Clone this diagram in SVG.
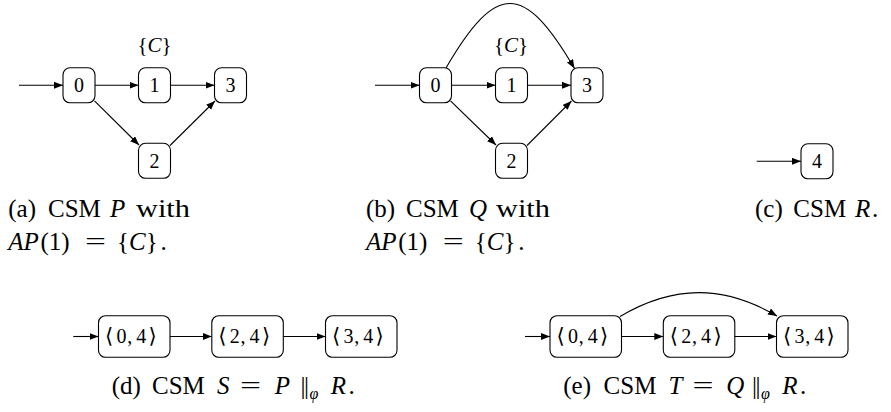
<svg xmlns="http://www.w3.org/2000/svg" width="891" height="412" viewBox="0 0 891 412">
  <style>
    text { font-family: "Liberation Serif", "Times New Roman", Tinos, "DejaVu Serif", serif; fill: #000; }
    .lbl { font-size: 20px; }
    .cap { font-size: 25px; }
    .ap { font-size: 21px; }
    .it { font-style: italic; }
    .br { font-family: "DejaVu Serif", "DejaVu Sans", serif; font-size: 21px; }
    .par { letter-spacing: -1.5px; }
    .sub { font-size: 16px; }
    .node rect { fill: #fff; stroke: #000; stroke-width: 1.1; }
    .edge { fill: none; stroke: #000; stroke-width: 1.1; marker-end: url(#tip); }
  </style>
  <defs>
    <marker id="tip" markerUnits="userSpaceOnUse" markerWidth="10" markerHeight="8" refX="9" refY="3.5" orient="auto">
      <path d="M0,0 L9,3.5 L0,7 Z" fill="#000"/>
    </marker>
  </defs>

  <!-- connectors -->
  <g id="connectors">
    <!-- (a) P -->
    <path class="edge" d="M19,85.3 H63"/>
    <path class="edge" d="M95,85.3 H138.5"/>
    <path class="edge" d="M170.5,85.3 H214.5"/>
    <path class="edge" d="M94.5,100.8 L139,145"/>
    <path class="edge" d="M170,145.5 L215,101"/>
    <!-- (b) Q -->
    <path class="edge" d="M375,85.3 H419.5"/>
    <path class="edge" d="M451.5,85.3 H495.5"/>
    <path class="edge" d="M527.5,85.3 H571"/>
    <path class="edge" d="M450.5,100.8 L496,145"/>
    <path class="edge" d="M527,145.5 L571.5,101"/>
    <path class="edge" d="M446,68 C496,-18 524,-18 574.5,68.5"/>
    <!-- (c) R -->
    <path class="edge" d="M756.7,161.3 H801"/>
    <!-- (d) S -->
    <path class="edge" d="M73.3,336.5 H98.5"/>
    <path class="edge" d="M170,336.5 H211.8"/>
    <path class="edge" d="M283.3,336.5 H325.5"/>
    <!-- (e) T -->
    <path class="edge" d="M525,336.5 H550"/>
    <path class="edge" d="M621.5,336.5 H663.3"/>
    <path class="edge" d="M734,336.5 H776.5"/>
    <path class="edge" d="M620,316.5 C673.5,284.7 723.5,284.7 777,316"/>
  </g>

  <!-- (a) CSM P -->
  <g id="P0" class="node"><rect x="63" y="67.8" width="32" height="35" rx="7"/><text class="lbl" x="79" y="92.3" text-anchor="middle">0</text></g>
  <g id="P1" class="node"><rect x="138.5" y="67.8" width="32" height="35" rx="7"/><text class="lbl" x="154.5" y="92.3" text-anchor="middle">1</text></g>
  <g id="P3" class="node"><rect x="214.5" y="67.8" width="32" height="35" rx="7"/><text class="lbl" x="230.5" y="92.3" text-anchor="middle">3</text></g>
  <g id="P2" class="node"><rect x="138.5" y="143.3" width="32" height="35" rx="7"/><text class="lbl" x="154.5" y="167.8" text-anchor="middle">2</text></g>
  <text class="ap" x="154.5" y="52" text-anchor="middle">{<tspan class="it">C</tspan>}</text>

  <!-- (b) CSM Q -->
  <g id="Q0" class="node"><rect x="419.5" y="67.8" width="32" height="35" rx="7"/><text class="lbl" x="435.5" y="92.3" text-anchor="middle">0</text></g>
  <g id="Q1" class="node"><rect x="495.5" y="67.8" width="32" height="35" rx="7"/><text class="lbl" x="511.5" y="92.3" text-anchor="middle">1</text></g>
  <g id="Q3" class="node"><rect x="571" y="67.8" width="32" height="35" rx="7"/><text class="lbl" x="587" y="92.3" text-anchor="middle">3</text></g>
  <g id="Q2" class="node"><rect x="495.5" y="143.3" width="32" height="35" rx="7"/><text class="lbl" x="511.5" y="167.8" text-anchor="middle">2</text></g>
  <text class="ap" x="511" y="52" text-anchor="middle">{<tspan class="it">C</tspan>}</text>

  <!-- (c) CSM R -->
  <g id="R4" class="node"><rect x="801" y="143.8" width="32" height="35" rx="7"/><text class="lbl" x="817" y="168.3" text-anchor="middle">4</text></g>

  <!-- (d) CSM S -->
  <g id="S04" class="node"><rect x="98.5" y="315.7" width="71.5" height="41.6" rx="7"/>
    <text class="lbl" y="343"><tspan class="br" x="105">⟨</tspan><tspan x="116.5">0</tspan><tspan x="127.3">,</tspan><tspan x="136.2">4</tspan><tspan class="br" x="148.6">⟩</tspan></text></g>
  <g id="S24" class="node"><rect x="211.8" y="315.7" width="71.5" height="41.6" rx="7"/>
    <text class="lbl" y="343"><tspan class="br" x="218.3">⟨</tspan><tspan x="229.8">2</tspan><tspan x="240.6">,</tspan><tspan x="249.5">4</tspan><tspan class="br" x="261.9">⟩</tspan></text></g>
  <g id="S34" class="node"><rect x="325.5" y="315.7" width="71.5" height="41.6" rx="7"/>
    <text class="lbl" y="343"><tspan class="br" x="332">⟨</tspan><tspan x="343.5">3</tspan><tspan x="354.3">,</tspan><tspan x="363.2">4</tspan><tspan class="br" x="375.6">⟩</tspan></text></g>

  <!-- (e) CSM T -->
  <g id="T04" class="node"><rect x="550" y="315.7" width="71.5" height="41.6" rx="7"/>
    <text class="lbl" y="343"><tspan class="br" x="556.5">⟨</tspan><tspan x="568">0</tspan><tspan x="578.8">,</tspan><tspan x="587.7">4</tspan><tspan class="br" x="600.1">⟩</tspan></text></g>
  <g id="T24" class="node"><rect x="663.3" y="315.7" width="71.5" height="41.6" rx="7"/>
    <text class="lbl" y="343"><tspan class="br" x="669.8">⟨</tspan><tspan x="681.3">2</tspan><tspan x="692.1">,</tspan><tspan x="701">4</tspan><tspan class="br" x="713.4">⟩</tspan></text></g>
  <g id="T34" class="node"><rect x="776.5" y="315.7" width="71.5" height="41.6" rx="7"/>
    <text class="lbl" y="343"><tspan class="br" x="783">⟨</tspan><tspan x="794.5">3</tspan><tspan x="805.3">,</tspan><tspan x="814.2">4</tspan><tspan class="br" x="826.6">⟩</tspan></text></g>

  <!-- captions -->
  <g id="captions" class="cap">
    <text y="216.7"><tspan x="8.3">(a)</tspan><tspan x="48">CSM</tspan><tspan class="it" x="110">P</tspan></text>
    <text y="216.7" x="136" textLength="54" lengthAdjust="spacingAndGlyphs">with</text>
    <text y="250"><tspan class="it" x="8.3">AP</tspan><tspan x="40.5">(1)</tspan></text>
    <text y="250" x="85" textLength="21" lengthAdjust="spacingAndGlyphs">=</text>
    <text y="250"><tspan x="117">{</tspan><tspan class="it">C</tspan><tspan>}</tspan><tspan x="160.5">.</tspan></text>

    <text y="216.7"><tspan x="366">(b)</tspan><tspan x="406">CSM</tspan><tspan class="it" x="469">Q</tspan></text>
    <text y="216.7" x="496" textLength="54" lengthAdjust="spacingAndGlyphs">with</text>
    <text y="250"><tspan class="it" x="366">AP</tspan><tspan x="398.2">(1)</tspan></text>
    <text y="250" x="442.7" textLength="21" lengthAdjust="spacingAndGlyphs">=</text>
    <text y="250"><tspan x="474.7">{</tspan><tspan class="it">C</tspan><tspan>}</tspan><tspan x="518.2">.</tspan></text>

    <text y="216.7"><tspan x="755">(c)</tspan><tspan x="793.3">CSM</tspan><tspan class="it" x="855">R</tspan><tspan x="872">.</tspan></text>

    <text y="394.3"><tspan x="111.7">(d)</tspan><tspan x="152">CSM</tspan><tspan class="it" x="217">S</tspan></text>
    <text y="394.3" x="240" textLength="21" lengthAdjust="spacingAndGlyphs">=</text>
    <text y="394.3"><tspan class="it" x="274.7">P</tspan><tspan class="par" x="300.5">||</tspan><tspan class="it sub" x="309.5" dy="5">φ</tspan><tspan class="it" x="330.7" dy="-5">R</tspan><tspan x="348.5">.</tspan></text>

    <text y="394.3"><tspan x="563.3">(e)</tspan><tspan x="603.6">CSM</tspan><tspan class="it" x="668.6">T</tspan></text>
    <text y="394.3" x="692.6" textLength="21" lengthAdjust="spacingAndGlyphs">=</text>
    <text y="394.3"><tspan class="it" x="726.3">Q</tspan><tspan class="par" x="752.1">||</tspan><tspan class="it sub" x="761.1" dy="5">φ</tspan><tspan class="it" x="782.3" dy="-5">R</tspan><tspan x="800.1">.</tspan></text>
  </g>
</svg>
